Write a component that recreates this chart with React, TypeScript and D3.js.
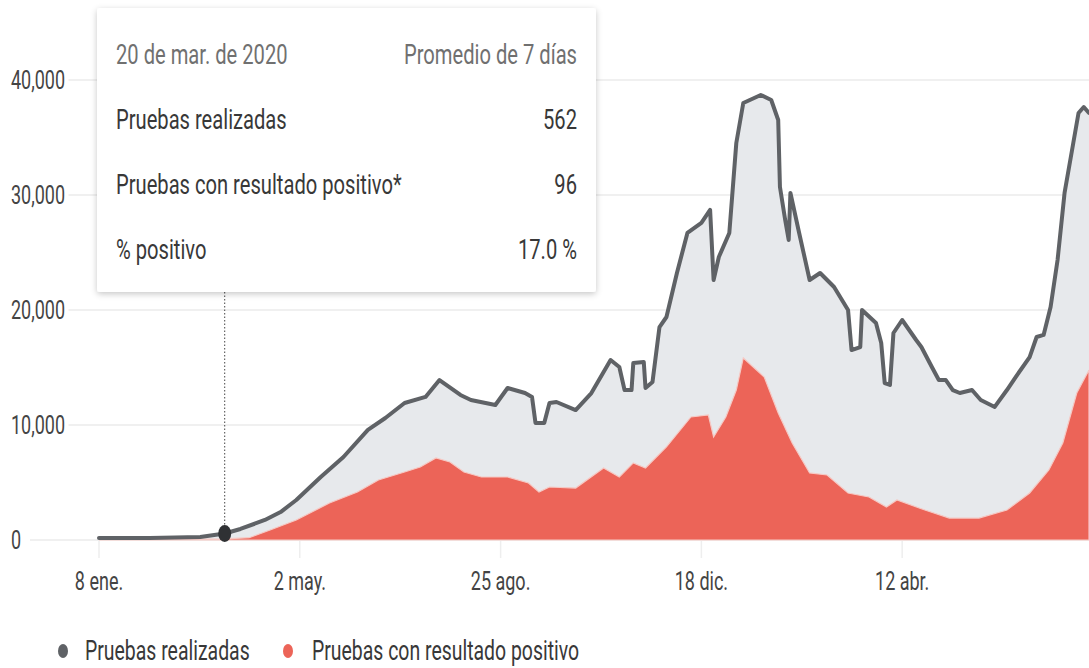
import React from "react";
import { scaleLinear, scaleTime, timeParse, area, line, curveLinear } from "d3";

const width = 1089;
const height = 668;

// text in the reference is horizontally compressed
const SX = 0.72;

const parse = timeParse("%Y-%m-%d");

// Pruebas realizadas (promedio de 7 días)
const testDates = [
  "2020-01-08", "2020-02-06", "2020-03-06", "2020-03-20", "2020-03-29", "2020-04-12",
  "2020-04-21", "2020-04-30", "2020-05-14", "2020-05-27", "2020-06-10", "2020-06-20",
  "2020-07-01", "2020-07-13", "2020-07-21", "2020-08-02", "2020-08-08", "2020-08-22",
  "2020-08-29", "2020-09-08", "2020-09-12", "2020-09-14", "2020-09-19", "2020-09-22",
  "2020-09-26", "2020-10-07", "2020-10-16", "2020-10-27", "2020-11-01", "2020-11-04",
  "2020-11-08", "2020-11-09", "2020-11-15", "2020-11-16", "2020-11-20", "2020-11-24",
  "2020-11-28", "2020-12-04", "2020-12-10", "2020-12-18", "2020-12-23", "2020-12-25",
  "2020-12-28", "2021-01-03", "2021-01-07", "2021-01-11", "2021-01-21", "2021-01-27",
  "2021-01-31", "2021-02-01", "2021-02-04", "2021-02-06", "2021-02-07", "2021-02-12",
  "2021-02-18", "2021-02-24", "2021-03-04", "2021-03-12", "2021-03-14", "2021-03-19",
  "2021-03-20", "2021-03-28", "2021-03-31", "2021-04-02", "2021-04-05", "2021-04-07",
  "2021-04-12", "2021-04-20", "2021-04-23", "2021-04-29", "2021-05-03", "2021-05-07",
  "2021-05-11", "2021-05-15", "2021-05-22", "2021-05-27", "2021-06-04", "2021-06-11",
  "2021-06-16", "2021-06-24", "2021-06-28", "2021-07-02", "2021-07-06", "2021-07-10",
  "2021-07-14", "2021-07-19", "2021-07-22", "2021-07-25", "2021-07-28",
];
const testValues = [
  170, 180, 260, 562, 960, 1740,
  2430, 3480, 5480, 7220, 9570, 10610,
  11910, 12440, 13910, 12610, 12170, 11740,
  13220, 12780, 12440, 10170, 10170, 11910,
  12000, 11300, 12780, 15650, 15040, 13040,
  13040, 15390, 15480, 13220, 13740, 18520,
  19390, 23220, 26700, 27570, 28700, 22610,
  24610, 26700, 34520, 38000, 38700, 38260,
  36520, 30700, 27830, 26090, 30180, 26700,
  22610, 23220, 22000, 20000, 16520, 16780,
  20000, 18870, 17130, 13650, 13480, 18000,
  19130, 17390, 16780, 15040, 13910, 13910,
  13040, 12780, 13040, 12170, 11570, 13040,
  14170, 15910, 17650, 17830, 20260, 24350,
  30180, 34520, 37130, 37650, 37130,
];

// Pruebas con resultado positivo
const posDates = [
  "2020-01-08", "2020-03-20", "2020-04-03", "2020-04-15", "2020-04-30", "2020-05-19",
  "2020-06-04", "2020-06-16", "2020-07-01", "2020-07-10", "2020-07-19", "2020-07-27",
  "2020-08-04", "2020-08-14", "2020-08-29", "2020-09-10", "2020-09-16", "2020-09-22",
  "2020-10-07", "2020-10-23", "2020-11-01", "2020-11-09", "2020-11-16", "2020-11-28",
  "2020-12-12", "2020-12-22", "2020-12-25", "2021-01-01", "2021-01-07", "2021-01-11",
  "2021-01-23", "2021-01-31", "2021-02-08", "2021-02-18", "2021-02-28", "2021-03-12",
  "2021-03-24", "2021-04-03", "2021-04-09", "2021-04-25", "2021-05-09", "2021-05-26",
  "2021-06-11", "2021-06-24", "2021-07-05", "2021-07-13", "2021-07-21", "2021-07-28",
];
const posValues = [
  0, 96, 200, 870, 1740, 3220,
  4170, 5220, 5910, 6350, 7130, 6780,
  5910, 5480, 5480, 4960, 4170, 4610,
  4520, 6260, 5480, 6700, 6260, 8090,
  10700, 10870, 8960, 10700, 13040, 15830,
  14170, 11040, 8440, 5830, 5650, 4090,
  3740, 2870, 3480, 2610, 1910, 1910,
  2610, 4090, 6090, 8440, 12780, 14780,
];

const yTicks = [0, 10000, 20000, 30000, 40000];
const xTickDates = ["2020-01-08", "2020-05-02", "2020-08-25", "2020-12-18", "2021-04-12"];
const xTickLabels = ["8 ene.", "2 may.", "25 ago.", "18 dic.", "12 abr."];

const tooltipDate = "2020-03-20";
const tooltipTitle = "20 de mar. de 2020";
const tooltipNote = "Promedio de 7 días";
const tooltipRows = [
  ["Pruebas realizadas", "562"],
  ["Pruebas con resultado positivo*", "96"],
  ["% positivo", "17.0 %"],
];
const legendItems = ["Pruebas realizadas", "Pruebas con resultado positivo"];

const GREY_LINE = "#5f6266";
const GREY_AREA = "#e7e9ec";
const RED = "#ec6458";
const FONT = "Roboto, 'Liberation Sans', sans-serif";

const T = ({ x, y, size, fill, anchor = "start", halo = false, children }: any) => (
  <text
    transform={`translate(${x},${y}) scale(${SX},1)`}
    textAnchor={anchor}
    fontSize={size}
    fill={fill}
    fontFamily={FONT}
    stroke={halo ? "#fff" : undefined}
    strokeWidth={halo ? 12 : undefined}
    paintOrder="stroke"
  >
    {children}
  </text>
);

export default function App() {
  const tests = testDates.map((d, i) => ({ date: parse(d) as Date, value: testValues[i] }));
  const pos = posDates.map((d, i) => ({ date: parse(d) as Date, value: posValues[i] }));

  const x = scaleTime()
    .domain([parse("2020-01-08") as Date, parse("2021-07-28") as Date])
    .range([99, 1089]);
  const y = scaleLinear().domain([0, 40000]).range([540, 80]);

  const areaGen = area<any>()
    .x((d) => x(d.date))
    .y0(y(0))
    .y1((d) => y(d.value))
    .curve(curveLinear);
  const lineGen = line<any>()
    .x((d) => x(d.date))
    .y((d) => y(d.value))
    .curve(curveLinear);

  const tipDate = parse(tooltipDate) as Date;
  const tipX = x(tipDate);
  const tipVal = tests.find((d) => +d.date === +tipDate)!.value;

  const tipLeft = 97;
  const tipTop = 8;
  const tipRight = 596;
  const tipBottom = 292;

  return (
    <svg
      width={width}
      height={height}
      style={{ position: "absolute", left: 0, top: 0, background: "#fff" }}
    >
      <defs>
        <filter id="shadow" x="-10%" y="-10%" width="120%" height="130%">
          <feDropShadow dx="0" dy="2" stdDeviation="3" floodColor="#000" floodOpacity="0.22" />
        </filter>
        <clipPath id="plot">
          <rect x={0} y={0} width={width} height={541} />
        </clipPath>
      </defs>

      {/* gridlines */}
      {yTicks.map((t) => (
        <line key={t} x1={30} x2={width} y1={y(t)} y2={y(t)} stroke="#ebebeb" strokeWidth={1.5} />
      ))}
      {/* x ticks */}
      {xTickDates.map((d) => (
        <line
          key={d}
          x1={x(parse(d) as Date)}
          x2={x(parse(d) as Date)}
          y1={541}
          y2={558}
          stroke="#eeeeee"
          strokeWidth={1.5}
        />
      ))}

      {/* y labels */}
      {yTicks.map((t) => (
        <T key={t} x={11} y={y(t) + 9} size={25} fill="#444" halo>
          {t.toLocaleString("en-US")}
        </T>
      ))}

      <g clipPath="url(#plot)">
        <path d={areaGen(tests) || ""} fill={GREY_AREA} />
        <path d={areaGen(pos) || ""} fill={RED} stroke="#f6c9c4" strokeWidth={1.2} />
        <path
          d={lineGen(tests) || ""}
          fill="none"
          stroke={GREY_LINE}
          strokeWidth={4}
          strokeLinejoin="round"
          strokeLinecap="round"
        />
      </g>

      {/* x labels */}
      {xTickDates.map((d, i) => (
        <T key={d} x={x(parse(d) as Date)} y={590} size={25} fill="#444" anchor="middle">
          {xTickLabels[i]}
        </T>
      ))}

      {/* hover marker */}
      <line
        x1={tipX}
        x2={tipX}
        y1={tipBottom}
        y2={y(tipVal)}
        stroke="#444"
        strokeWidth={1}
        strokeDasharray="1.5,2"
      />
      <ellipse cx={tipX} cy={y(tipVal)} rx={6.5} ry={8.5} fill="#2f3134" />

      {/* tooltip */}
      <rect
        x={tipLeft}
        y={tipTop}
        width={tipRight - tipLeft}
        height={tipBottom - tipTop}
        rx={3}
        fill="#fff"
        filter="url(#shadow)"
      />
      <T x={116} y={64} size={28} fill="#707070">
        {tooltipTitle}
      </T>
      <T x={577} y={64} size={28} fill="#707070" anchor="end">
        {tooltipNote}
      </T>
      {tooltipRows.map((r, i) => (
        <g key={r[0]}>
          <T x={116} y={129 + i * 65} size={28} fill="#383838">
            {r[0]}
          </T>
          <T x={577} y={129 + i * 65} size={28} fill="#383838" anchor="end">
            {r[1]}
          </T>
        </g>
      ))}

      {/* legend */}
      <ellipse cx={63} cy={651} rx={5} ry={7} fill={GREY_LINE} />
      <T x={85} y={660} size={27} fill="#383838">
        {legendItems[0]}
      </T>
      <ellipse cx={288} cy={651} rx={5} ry={7} fill={RED} />
      <T x={312} y={660} size={27} fill="#383838">
        {legendItems[1]}
      </T>
    </svg>
  );
}
